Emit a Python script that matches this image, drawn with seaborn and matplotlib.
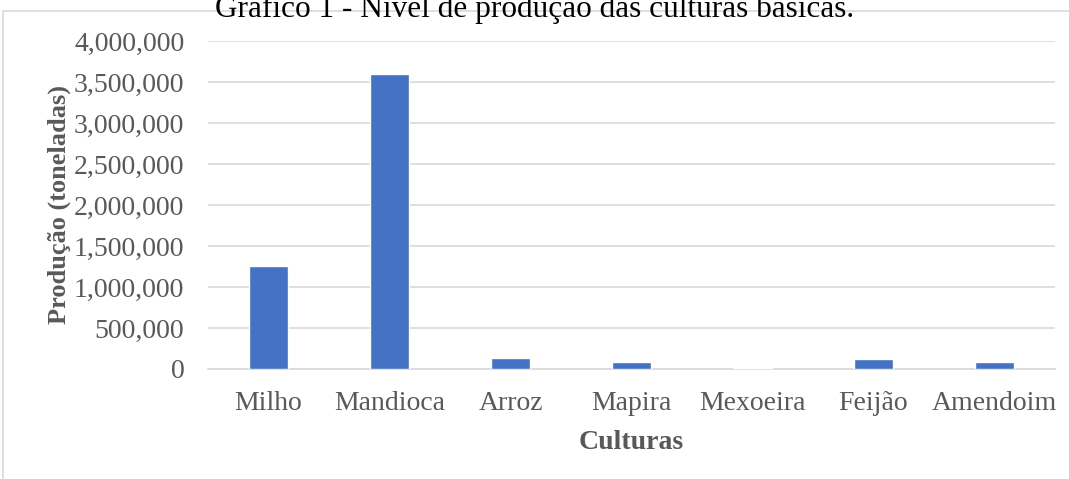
import matplotlib
matplotlib.use("Agg")
import matplotlib.pyplot as plt
import seaborn as sns
import pandas as pd
from matplotlib.patches import Rectangle
from matplotlib.ticker import FuncFormatter

culturas = ["Milho", "Mandioca", "Arroz", "Mapira", "Mexoeira", "Feijão", "Amendoim"]
producao = [1262000, 3598000, 132000, 82000, 12000, 124000, 86000]
yticks = [0, 500000, 1000000, 1500000, 2000000, 2500000, 3000000, 3500000, 4000000]

df = pd.DataFrame({"Culturas": culturas, "Producao": producao})

sns.set_style("white")
plt.rcParams["font.family"] = ["Liberation Serif", "DejaVu Serif"]

fig = plt.figure(figsize=(10.69, 4.79), dpi=100)
ax = fig.add_axes([208/1069, 1-369/479, (1055-208)/1069, (369-41)/479])

sns.barplot(data=df, x="Culturas", y="Producao", color="#4472C4", width=0.32,
            saturation=1, ax=ax, zorder=3)

ax.set_ylim(0, 4000000)
ax.set_yticks(yticks)
ax.yaxis.set_major_formatter(FuncFormatter(lambda v, p: f"{int(v):,}"))
ax.grid(axis="y", color="#d9d9d9", linewidth=1.2, zorder=0)
ax.set_axisbelow(True)
for s in ["top", "right", "left"]:
    ax.spines[s].set_visible(False)
ax.spines["bottom"].set_color("#d9d9d9")
ax.spines["bottom"].set_linewidth(1.2)
ax.tick_params(axis="both", length=0, labelsize=20, colors="#595959")
ax.tick_params(axis="y", pad=17)
ax.tick_params(axis="x", pad=16)
ax.set_xlabel("Culturas", fontsize=20, fontweight="bold", color="#595959", labelpad=10)
ax.set_ylabel("Produção (toneladas)", fontsize=19, fontweight="bold", color="#595959", labelpad=2)

fig.text(0.5, 1 - 17/479, "Gráfico 1 - Nível de produção das culturas básicas.",
         ha="center", va="baseline", fontsize=22.5, color="black")

fig.patches.append(Rectangle((3/1069, -0.2), 1.2, 0.2 + (479-11)/479, transform=fig.transFigure,
                             fill=False, edgecolor="#d9d9d9", linewidth=1.2))

fig.savefig("out.png", dpi=100)
